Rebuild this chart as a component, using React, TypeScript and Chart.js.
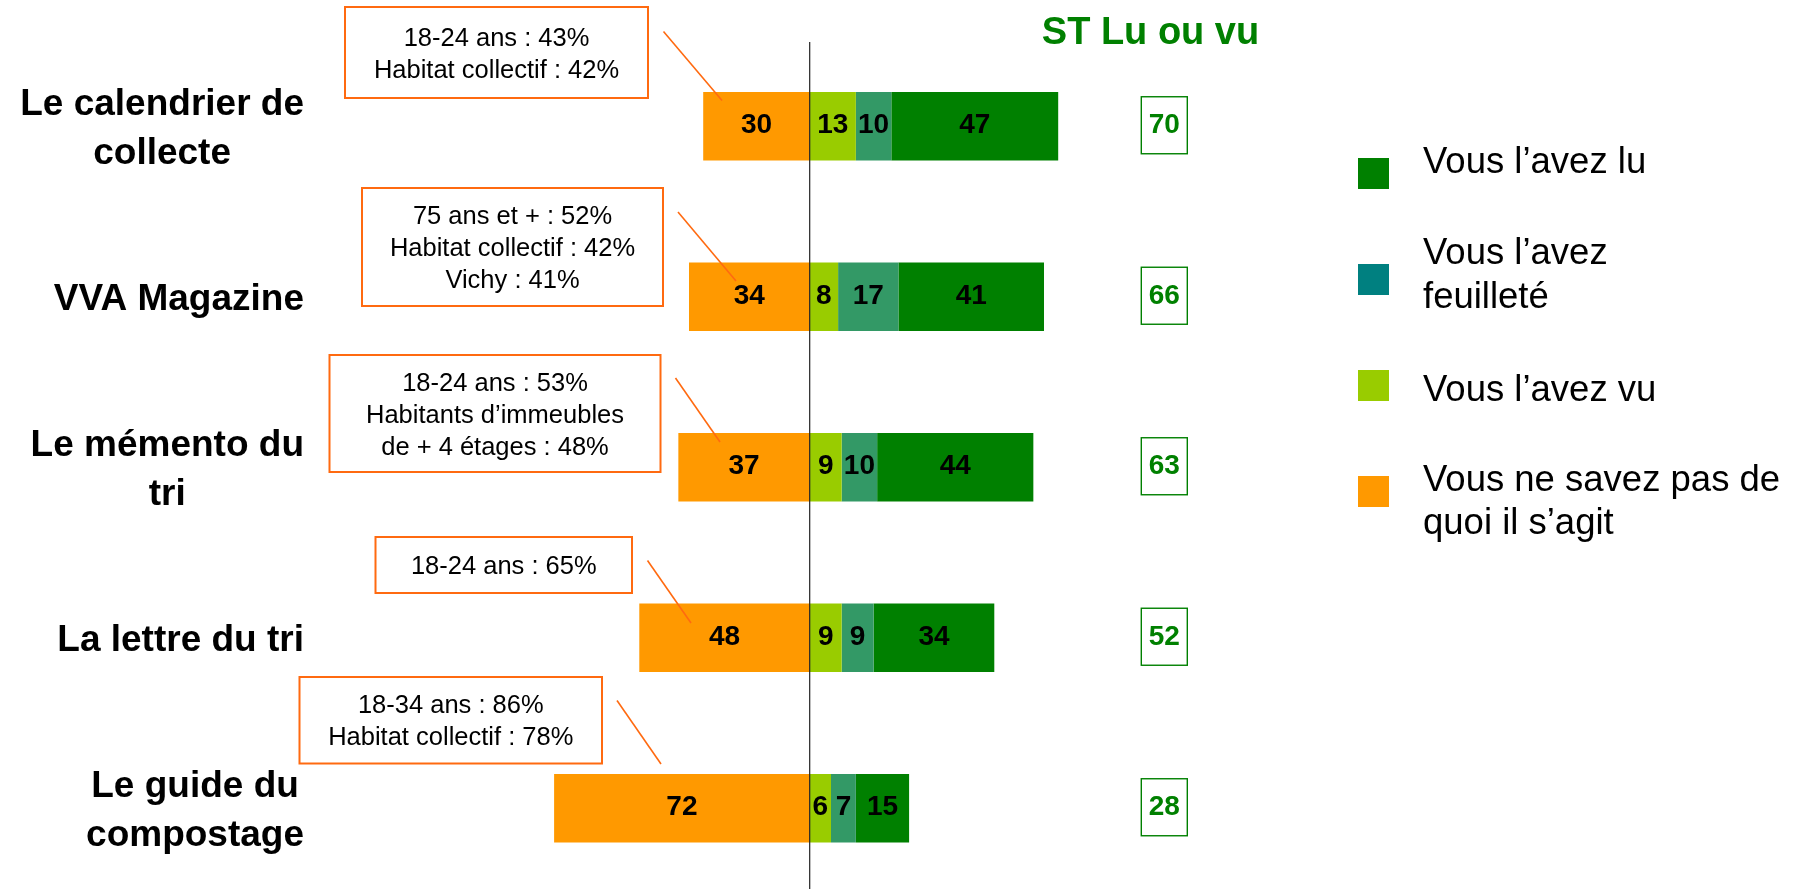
import { useEffect, useRef } from "react";
import { Chart, registerables } from "chart.js";

Chart.register(...registerables);

// ---------- DATA ----------
const CATEGORIES: string[][] = [
  ["Le calendrier de", "collecte"],
  ["VVA Magazine"],
  ["Le mémento du", "tri"],
  ["La lettre du tri"],
  ["Le guide du", "compostage"],
];
const NE_SAVENT_PAS = [30, 34, 37, 48, 72];
const VU = [13, 8, 9, 9, 6];
const FEUILLETE = [10, 17, 10, 9, 7];
const LU = [47, 41, 44, 34, 15];
const ST_LU_OU_VU = [70, 66, 63, 52, 28];
const ST_TITLE = "ST Lu ou vu";

const SERIES_NAMES = ["Vous l’avez lu", "Vous l’avez feuilleté", "Vous l’avez vu", "Vous ne savez pas de quoi il s’agit"];
const LEGEND_LINES: string[][] = [
  ["Vous l’avez lu"],
  ["Vous l’avez", "feuilleté"],
  ["Vous l’avez vu"],
  ["Vous ne savez pas de", "quoi il s’agit"],
];
const CALLOUTS: string[][] = [
  ["18-24 ans : 43%", "Habitat collectif : 42%"],
  ["75 ans et + : 52%", "Habitat collectif : 42%", "Vichy : 41%"],
  ["18-24 ans : 53%", "Habitants d’immeubles", "de + 4 étages : 48%"],
  ["18-24 ans : 65%"],
  ["18-34 ans : 86%", "Habitat collectif : 78%"],
];

// ---------- STYLE / LAYOUT ----------
const C_ORANGE = "#FF9900";
const C_VU = "#99CC00";
const C_FEUIL = "#339966";
const C_FEUIL_LEGEND = "#008080";
const C_LU = "#008000";
const C_CALLOUT = "#FF6A10";
const FONT = "'Liberation Sans', Arial, sans-serif";

const CALLOUT_BOXES = [
  { x: 345, y: 7, w: 303, h: 91 },
  { x: 362, y: 188, w: 301, h: 118 },
  { x: 329.5, y: 355, w: 331, h: 117 },
  { x: 375.5, y: 537, w: 256.5, h: 56 },
  { x: 299.5, y: 677, w: 302.5, h: 86.5 },
];
const CALLOUT_LINES = [
  [663.5, 31.5, 722, 100.5],
  [678, 212, 736, 281],
  [675.5, 378, 720, 442],
  [647.5, 560.5, 691, 623],
  [617, 700.5, 661, 764],
];
const LEGEND_COLORS = [C_LU, C_FEUIL_LEGEND, C_VU, C_ORANGE];
const LEGEND_SQ_TOP = [158, 264, 370, 476];
const LEGEND_BASELINES = [[173], [264, 308], [400.5], [490.5, 534]];

const overlayPlugin = {
  id: "overlay",
  afterDatasetsDraw(chart: any) {
    const ctx: CanvasRenderingContext2D = chart.ctx;
    const xs = chart.scales.x;
    const ys = chart.scales.y;
    ctx.save();

    // value labels
    ctx.fillStyle = "#000";
    ctx.font = `bold 28px ${FONT}`;
    ctx.textAlign = "center";
    ctx.textBaseline = "alphabetic";
    chart.data.datasets.forEach((ds: any, di: number) => {
      const meta = chart.getDatasetMeta(di);
      meta.data.forEach((el: any, i: number) => {
        const p = el.getProps(["x", "y", "base"], true);
        const v = Math.abs(ds.data[i]);
        ctx.fillText(String(v), (p.x + p.base) / 2, p.y + 7);
      });
    });

    // zero line
    const x0 = xs.getPixelForValue(0);
    ctx.strokeStyle = "#222";
    ctx.lineWidth = 1.2;
    ctx.beginPath();
    ctx.moveTo(x0, 42);
    ctx.lineTo(x0, chart.height);
    ctx.stroke();

    // category labels (right-aligned block, centered lines)
    ctx.font = `bold 37px ${FONT}`;
    ctx.fillStyle = "#000";
    CATEGORIES.forEach((lines, i) => {
      const cy = ys.getPixelForValue(i);
      const maxW = Math.max(...lines.map((l) => ctx.measureText(l).width));
      const cx = 304 - maxW / 2;
      lines.forEach((l, k) => {
        ctx.fillText(l, cx, cy + 13 + (k - (lines.length - 1) / 2) * 49);
      });
    });

    // ST title
    ctx.fillStyle = C_LU;
    ctx.font = `bold 38px ${FONT}`;
    ctx.fillText(ST_TITLE, 1150.5, 44.3);

    // ST boxes
    ctx.font = `bold 28px ${FONT}`;
    ST_LU_OU_VU.forEach((v, i) => {
      const cy = ys.getPixelForValue(i);
      ctx.strokeStyle = C_LU;
      ctx.lineWidth = 1.4;
      ctx.strokeRect(1141.3, cy - 29.5, 46, 57);
      ctx.fillStyle = C_LU;
      ctx.fillText(String(v), 1164.3, cy + 7);
    });

    // callouts
    CALLOUTS.forEach((lines, i) => {
      const b = CALLOUT_BOXES[i];
      ctx.fillStyle = "#fff";
      ctx.fillRect(b.x, b.y, b.w, b.h);
      ctx.strokeStyle = C_CALLOUT;
      ctx.lineWidth = 2;
      ctx.strokeRect(b.x, b.y, b.w, b.h);
      ctx.fillStyle = "#000";
      ctx.font = `25.5px ${FONT}`;
      const cy = b.y + b.h / 2;
      lines.forEach((l, k) => {
        ctx.fillText(l, b.x + b.w / 2, cy + 9 + (k - (lines.length - 1) / 2) * 32);
      });
      const ln = CALLOUT_LINES[i];
      ctx.strokeStyle = C_CALLOUT;
      ctx.lineWidth = 1.6;
      ctx.beginPath();
      ctx.moveTo(ln[0], ln[1]);
      ctx.lineTo(ln[2], ln[3]);
      ctx.stroke();
    });

    // legend
    ctx.textAlign = "left";
    ctx.font = `36.5px ${FONT}`;
    LEGEND_LINES.forEach((lines, i) => {
      ctx.fillStyle = LEGEND_COLORS[i];
      ctx.fillRect(1358, LEGEND_SQ_TOP[i], 31, 31);
      ctx.fillStyle = "#000";
      lines.forEach((l, k) => ctx.fillText(l, 1423, LEGEND_BASELINES[i][k]));
    });

    ctx.restore();
  },
};

export default function App() {
  const ref = useRef<HTMLCanvasElement | null>(null);
  useEffect(() => {
    if (!ref.current) return;
    const common = { borderWidth: 0, barPercentage: 0.403, categoryPercentage: 1 };
    const chart = new Chart(ref.current, {
      type: "bar",
      data: {
        labels: CATEGORIES.map((l) => l.join(" ")),
        datasets: [
          { label: SERIES_NAMES[3], data: NE_SAVENT_PAS.map((v) => -v), backgroundColor: C_ORANGE, ...common },
          { label: SERIES_NAMES[2], data: VU, backgroundColor: C_VU, ...common },
          { label: SERIES_NAMES[1], data: FEUILLETE, backgroundColor: C_FEUIL, ...common },
          { label: SERIES_NAMES[0], data: LU, backgroundColor: C_LU, ...common },
        ],
      },
      options: {
        indexAxis: "y",
        animation: false,
        responsive: false,
        devicePixelRatio: 1,
        layout: { padding: { left: 312.7, right: 644.3, top: 41, bottom: 6.5 } },
        scales: {
          x: { stacked: true, min: -140, max: 100, display: false },
          y: { stacked: true, display: false, offset: true },
        },
        plugins: { legend: { display: false }, tooltip: { enabled: false } },
      },
      plugins: [overlayPlugin],
    } as any);
    return () => chart.destroy();
  }, []);
  return (
    <div style={{ position: "fixed", left: 0, top: 0, width: 1809, height: 889, overflow: "hidden", background: "#fff" }}>
      <canvas ref={ref} width={1809} height={900} style={{ display: "block" }} />
    </div>
  );
}
